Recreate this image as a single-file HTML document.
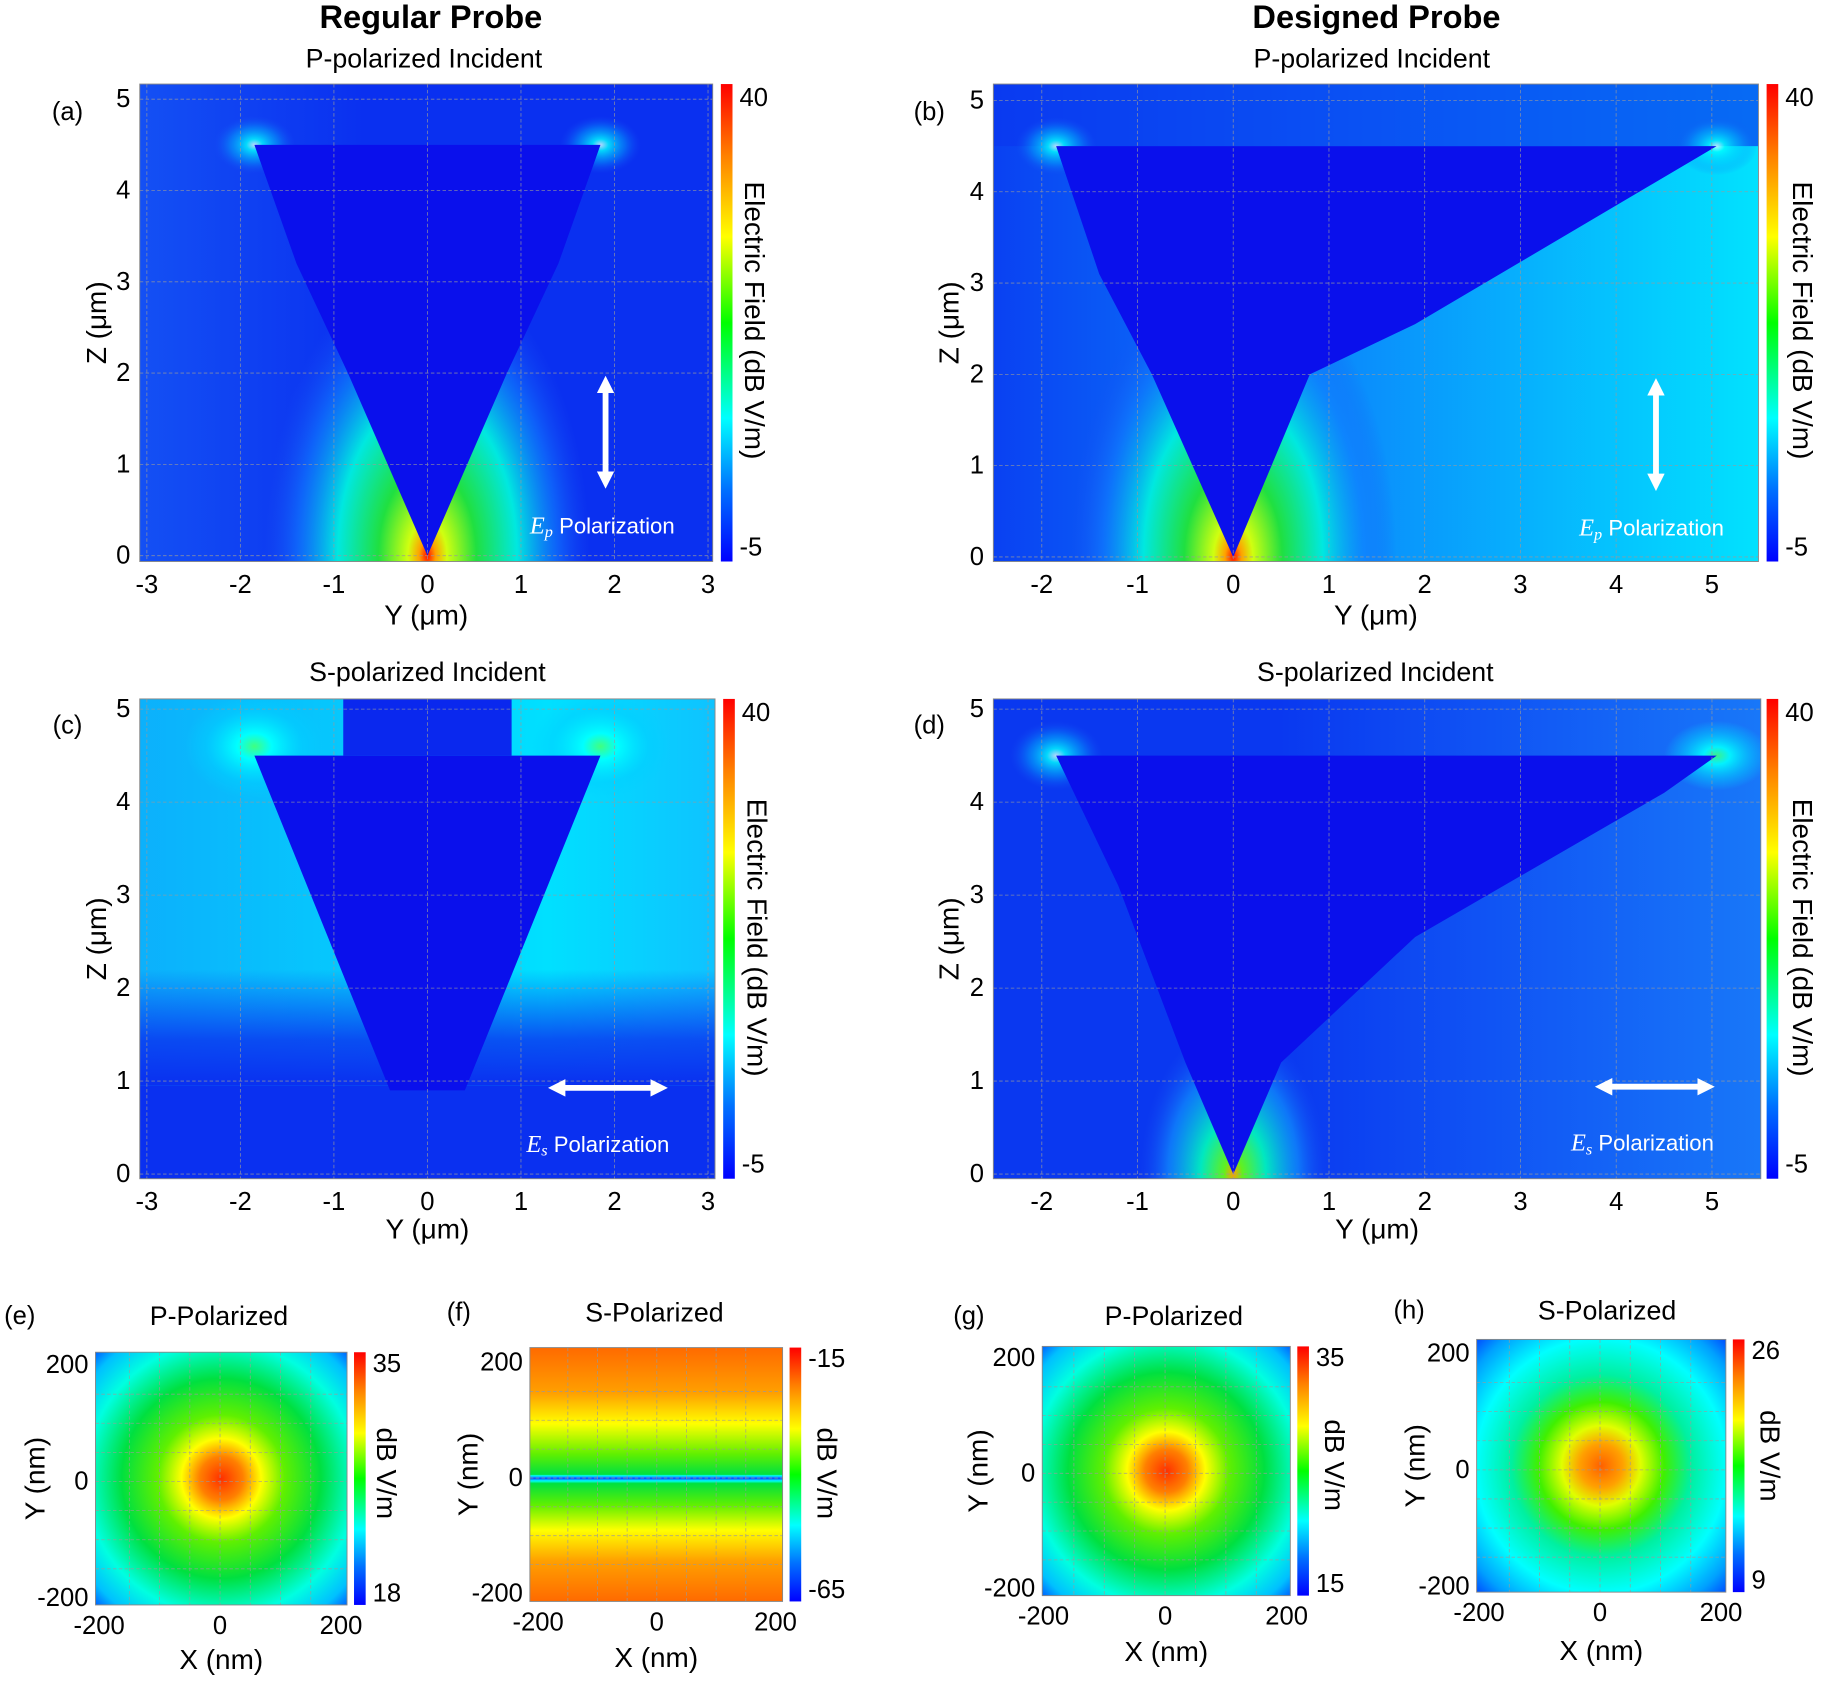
<!DOCTYPE html>
<html><head><meta charset="utf-8"><style>
html,body{margin:0;padding:0;background:#fff;}
svg{display:block;font-family:"Liberation Sans",sans-serif;}
</style></head><body>
<svg id="fig" width="1826" height="1682" viewBox="0 0 1568 1444" xmlns="http://www.w3.org/2000/svg">
<defs>
<linearGradient id="jet" x1="0" y1="1" x2="0" y2="0">
<stop offset="0" stop-color="#0000ff"/><stop offset="0.15" stop-color="#0070ff"/><stop offset="0.3" stop-color="#00ffff"/><stop offset="0.5" stop-color="#00ff00"/><stop offset="0.68" stop-color="#ffff00"/><stop offset="0.85" stop-color="#ff8000"/><stop offset="1" stop-color="#ff0000"/></linearGradient>
<radialGradient id="tip">
<stop offset="0" stop-color="#ff1000"/><stop offset="0.05" stop-color="#ffa000"/><stop offset="0.12" stop-color="#d0ff10"/><stop offset="0.3" stop-color="#20e040"/><stop offset="0.55" stop-color="#00e8e0"/><stop offset="0.8" stop-color="#1080ff" stop-opacity="0.6"/><stop offset="1" stop-color="#1a50f5" stop-opacity="0"/></radialGradient>
<radialGradient id="tipweak">
<stop offset="0" stop-color="#ffa000"/><stop offset="0.1" stop-color="#60f020"/><stop offset="0.35" stop-color="#00e8c0"/><stop offset="0.7" stop-color="#10a0ff" stop-opacity="0.6"/><stop offset="1" stop-color="#1a50f5" stop-opacity="0"/></radialGradient>
<radialGradient id="corner">
<stop offset="0" stop-color="#e0ffff"/><stop offset="0.2" stop-color="#00ffff"/><stop offset="0.6" stop-color="#00c0ff" stop-opacity="0.5"/><stop offset="1" stop-color="#1a50f5" stop-opacity="0"/></radialGradient>
<radialGradient id="cornerS">
<stop offset="0" stop-color="#40ff80"/><stop offset="0.25" stop-color="#00ffff"/><stop offset="0.7" stop-color="#00d0ff" stop-opacity="0.5"/><stop offset="1" stop-color="#00d0ff" stop-opacity="0"/></radialGradient>
<radialGradient id="spotP" cx="0.5" cy="0.5" r="0.72">
<stop offset="0" stop-color="#ff3000"/><stop offset="0.12" stop-color="#ff8000"/><stop offset="0.22" stop-color="#ffff00"/><stop offset="0.35" stop-color="#60f000"/><stop offset="0.55" stop-color="#00e040"/><stop offset="0.75" stop-color="#00ffe0"/><stop offset="0.9" stop-color="#00c0ff"/><stop offset="1" stop-color="#0050ff"/></radialGradient>
<radialGradient id="spotH" cx="0.5" cy="0.5" r="0.72">
<stop offset="0" stop-color="#ff6000"/><stop offset="0.12" stop-color="#ffa000"/><stop offset="0.22" stop-color="#e0ff00"/><stop offset="0.35" stop-color="#40f000"/><stop offset="0.5" stop-color="#00f0a0"/><stop offset="0.7" stop-color="#00ffff"/><stop offset="0.88" stop-color="#00a0ff"/><stop offset="1" stop-color="#0040ff"/></radialGradient>
<linearGradient id="bandS" x1="0" y1="0" x2="0" y2="1">
<stop offset="0" stop-color="#ff6a00"/><stop offset="0.18" stop-color="#ffa000"/><stop offset="0.3" stop-color="#ffff00"/><stop offset="0.42" stop-color="#60f000"/><stop offset="0.5" stop-color="#00e040"/><stop offset="0.505" stop-color="#00ffff"/><stop offset="0.515" stop-color="#1040ff"/><stop offset="0.525" stop-color="#00ffff"/><stop offset="0.535" stop-color="#00e040"/><stop offset="0.62" stop-color="#60f000"/><stop offset="0.72" stop-color="#ffff00"/><stop offset="0.84" stop-color="#ffa000"/><stop offset="1" stop-color="#ff6a00"/></linearGradient>
<linearGradient id="sideA" x1="0" y1="0" x2="1" y2="0">
<stop offset="0" stop-color="#1a64f6"/><stop offset="0.2" stop-color="#0a30f0"/><stop offset="0.8" stop-color="#0a30f0"/><stop offset="1" stop-color="#1a64f6"/></linearGradient>
<linearGradient id="sideB" x1="0" y1="0" x2="1" y2="0">
<stop offset="0" stop-color="#1a64f6"/><stop offset="0.15" stop-color="#0a30f0"/><stop offset="0.5" stop-color="#0a30f0"/><stop offset="0.75" stop-color="#0a90fc"/><stop offset="1" stop-color="#00f0ff"/></linearGradient>
<linearGradient id="sideC" x1="0" y1="0" x2="1" y2="0">
<stop offset="0" stop-color="#10a0fa"/><stop offset="0.3" stop-color="#00e0ff"/><stop offset="0.5" stop-color="#20a0ff"/><stop offset="0.7" stop-color="#00e0ff"/><stop offset="1" stop-color="#10a0fa"/></linearGradient>
<linearGradient id="fadeC" x1="0" y1="0" x2="0" y2="1">
<stop offset="0" stop-color="#0a30f0" stop-opacity="0"/><stop offset="0.6" stop-color="#0a30f0" stop-opacity="0.8"/><stop offset="1" stop-color="#0a30f0" stop-opacity="1"/></linearGradient>
<linearGradient id="sideD" x1="0" y1="0" x2="1" y2="0">
<stop offset="0" stop-color="#1458f4"/><stop offset="0.4" stop-color="#0a38f0"/><stop offset="0.7" stop-color="#0a38f0"/><stop offset="1" stop-color="#1a80fa"/></linearGradient>
<marker id="ah" viewBox="0 0 10 10" refX="5" refY="5" markerWidth="3" markerHeight="3" orient="auto-start-reverse"><path d="M0,0 L10,5 L0,10 z" fill="#fff"/></marker>
</defs>
<g id="root"></g>
</svg>
<script>
// ---- data arrays ----
const yTicksA = [-3,-2,-1,0,1,2,3];
const yTicksB = [-2,-1,0,1,2,3,4,5];
const zTicks = [0,1,2,3,4,5];
const cbarLabelsBig = [40,-5];
const nmTicks = [-200,0,200];
const gridNm = [-150,-100,-50,0,50,100,150];
const cbarE = [35,18];
const cbarF = [-15,-65];
const cbarG = [35,15];
const cbarH = [26,9];
// probe outlines (Y µm, Z µm)
const probeA_y = [-1.85,1.85,1.4,0.85,0,-0.85,-1.4];
const probeA_z = [4.5,4.5,3.2,2,0,2,3.2];
const probeB_y = [-1.85,5.05,1.9,0.8,0,-0.85,-1.4];
const probeB_z = [4.5,4.5,2.55,2,0,2,3.1];
const probeC_y = [-1.85,1.85,0.4,-0.4];
const probeC_z = [4.5,4.5,0.9,0.9];
const probeD_y = [-1.85,5.05,4.5,1.9,0.5,0,-0.5,-1.2];
const probeD_z = [4.5,4.5,4.1,2.55,1.2,0,1.2,3.1];

const NS="http://www.w3.org/2000/svg";
const root=document.getElementById('root');
function mk(tag,attrs,parent,text){const e=document.createElementNS(NS,tag);for(const k in attrs)e.setAttribute(k,attrs[k]);if(text!==undefined)e.textContent=text;(parent||root).appendChild(e);return e;}
function txt(x,y,s,size,opts){opts=opts||{};const t=mk('text',{x:x,y:y,'font-size':size,'text-anchor':opts.anchor||'middle','dominant-baseline':'central','font-weight':opts.bold?'bold':'normal',fill:opts.fill||'#000'},opts.parent,s);if(opts.rot)t.setAttribute('transform','rotate('+opts.rot+' '+x+' '+y+')');return t;}

function makePanel(p){
  const g=mk('g',{});
  
  
  const sx=v=>p.px0+(v-p.xmin)/(p.xmax-p.xmin)*(p.px1-p.px0);
  const sy=v=>p.py1-(v-p.ymin)/(p.ymax-p.ymin)*(p.py1-p.py0);
  const cid='clip_'+p.name;
  const cp=mk('clipPath',{id:cid},g);
  mk('rect',{x:p.px0,y:p.py0,width:p.px1-p.px0,height:p.py1-p.py0},cp);
  const hm=mk('g',{'clip-path':'url(#'+cid+')'},g);
  
  
  p.draw(hm,sx,sy);
  const gg=mk('g',{stroke:'#9a9a9a','stroke-width':0.7,'stroke-dasharray':'3,2',opacity:0.8},g);
  p.gridX.forEach(v=>{const l=mk('line',{x1:sx(v),x2:sx(v),y1:p.py0,y2:p.py1},gg);});
  p.gridY.forEach(v=>{const l=mk('line',{x1:p.px0,x2:p.px1,y1:sy(v),y2:sy(v)},gg);});
  mk('rect',{x:p.px0,y:p.py0,width:p.px1-p.px0,height:p.py1-p.py0,fill:'none',stroke:'#888','stroke-width':0.8},g);
  p.xTicks.forEach(v=>{const t=txt(sx(v),p.py1+p.xTickOff,String(v),p.fs,{parent:g});});
  p.yTicks.forEach(v=>{const t=txt(p.px0-p.yTickOff,sy(v),String(v),p.fs,{parent:g,anchor:'end'});});
  const xt=txt((p.px0+p.px1)/2,p.xTitleY,p.xTitle,p.fs+2,{parent:g});
  
  
  const yt=txt(p.yTitleX,(p.py0+p.py1)/2,p.yTitle,p.fs+2,{parent:g,rot:-90});
  
  
  const cb=mk('rect',{x:p.cbx,y:p.py0,width:p.cbw,height:p.py1-p.py0,fill:'url(#jet)'},g);
  
  
  const c1=txt(p.cbx+p.cbw+6,p.py0+p.cbPad,String(p.cbar[0]),p.fs,{parent:g,anchor:'start'});
  
  
  const c2=txt(p.cbx+p.cbw+6,p.py1-p.cbPad,String(p.cbar[1]),p.fs,{parent:g,anchor:'start'});
  
  
  const ct=txt(p.cbTitleX,p.cbTitleY,p.cbTitle,p.fs+2,{parent:g,rot:90});
  
  
  return g;
}
function poly(parent,sx,sy,ys,zs,fill){const pts=ys.map((y,i)=>sx(y)+','+sy(zs[i])).join(' ');const e=mk('polygon',{points:pts,fill:fill},parent);return e;}
function ell(parent,cx,cy,rx,ry,fill,op){return mk('ellipse',{cx:cx,cy:cy,rx:rx,ry:ry,fill:fill,opacity:op===undefined?1:op},parent);}

const big={fs:22,xTickOff:20,yTickOff:8,gridY:zTicks,yTicks:zTicks,yTitle:'Z (\u03bcm)',xTitle:'Y (\u03bcm)',cbw:10,cbar:cbarLabelsBig,cbPad:12,cbTitle:'Electric Field (dB V/m)'};
function P(o){return Object.assign({},big,o);}
const panels=[
P({name:'panel-a',px0:120,px1:612,py0:72,py1:482,xmin:-3.076,xmax:3.05,ymin:-0.064,ymax:5.166,xTicks:yTicksA,gridX:yTicksA,xTitleY:528,yTitleX:83,cbx:619,cbTitleX:648,cbTitleY:275,
 draw:(h,sx,sy)=>{mk('rect',{x:0,y:0,width:1568,height:1444,fill:'url(#sideA)'},h);
  ell(h,sx(0),sy(0),140,250,'url(#tip)');
  ell(h,sx(-1.85),sy(4.5),35,25,'url(#corner)',0.8);ell(h,sx(1.85),sy(4.5),35,25,'url(#corner)',0.8);
  poly(h,sx,sy,probeA_y,probeA_z,'#0a10ec');}}),
P({name:'panel-b',px0:853,px1:1510,py0:72,py1:482,xmin:-2.506,xmax:5.487,ymin:-0.05,ymax:5.18,xTicks:yTicksB,gridX:yTicksB,xTitleY:528,yTitleX:815,cbx:1517,cbTitleX:1548,cbTitleY:275,
 draw:(h,sx,sy)=>{mk('rect',{x:0,y:0,width:1568,height:1444,fill:'url(#sideB)'},h);
  mk('rect',{x:0,y:0,width:1568,height:sy(4.5),fill:'#0a38f0',opacity:0.7},h);
  ell(h,sx(0),sy(0),140,250,'url(#tip)');
  ell(h,sx(-1.85),sy(4.5),35,25,'url(#corner)',0.8);ell(h,sx(5.05),sy(4.5),35,25,'url(#corner)',0.8);
  poly(h,sx,sy,probeB_y,probeB_z,'#0a10ec');}}),
P({name:'panel-c',px0:120,px1:614,py0:600,py1:1012,xmin:-3.076,xmax:3.075,ymin:-0.05,ymax:5.11,xTicks:yTicksA,gridX:yTicksA,xTitleY:1055,yTitleX:83,cbx:621,cbTitleX:650,cbTitleY:805,
 draw:(h,sx,sy)=>{mk('rect',{x:0,y:0,width:1568,height:1444,fill:'url(#sideC)'},h);
  mk('rect',{x:0,y:sy(2.2),width:1568,height:sy(0.95)-sy(2.2),fill:'url(#fadeC)'},h);
  mk('rect',{x:0,y:sy(0.95),width:1568,height:200,fill:'#0a30f0'},h);
  mk('rect',{x:sx(-0.9),y:0,width:sx(0.9)-sx(-0.9),height:sy(4.5),fill:'#0a28ee'},h);
  ell(h,sx(-1.85),sy(4.6),60,45,'url(#cornerS)');ell(h,sx(1.85),sy(4.6),60,45,'url(#cornerS)');
  poly(h,sx,sy,probeC_y,probeC_z,'#0a10ec');}}),
P({name:'panel-d',px0:853,px1:1512,py0:600,py1:1012,xmin:-2.506,xmax:5.51,ymin:-0.05,ymax:5.11,xTicks:yTicksB,gridX:yTicksB,xTitleY:1055,yTitleX:815,cbx:1517,cbTitleX:1548,cbTitleY:805,
 draw:(h,sx,sy)=>{mk('rect',{x:0,y:0,width:1568,height:1444,fill:'url(#sideD)'},h);
  ell(h,sx(0),sy(0),80,130,'url(#tipweak)');
  ell(h,sx(-1.85),sy(4.5),40,30,'url(#corner)',0.8);ell(h,sx(5.05),sy(4.5),45,30,'url(#cornerS)',0.9);
  poly(h,sx,sy,probeD_y,probeD_z,'#0a10ec');}})
];
const sm={fs:22,xTickOff:18,yTickOff:6,xTitle:'X (nm)',yTitle:'Y (nm)',xTicks:nmTicks,yTicks:nmTicks,gridX:gridNm,gridY:gridNm,cbw:10,cbPad:10,cbTitle:'dB V/m'};
function S(o){return Object.assign({},sm,o);}
panels.push(
S({name:'panel-e',px0:82,px1:298,py0:1161,py1:1378,xmin:-206,xmax:210,ymin:-212,ymax:222,xTitleY:1425,yTitleX:30,cbx:304,cbar:cbarE,cbTitleX:332,cbTitleY:1265,
 draw:(h)=>{mk('rect',{x:82,y:1161,width:216,height:217,fill:'url(#spotP)'},h);}}),
S({name:'panel-f',px0:455,px1:672,py0:1157,py1:1375,xmin:-214,xmax:212,ymin:-214,ymax:226,xTitleY:1423,yTitleX:402,cbx:678,cbar:cbarF,cbTitleX:710,cbTitleY:1265,
 draw:(h)=>{mk('rect',{x:455,y:1157,width:217,height:218,fill:'url(#bandS)'},h);}}),
S({name:'panel-g',px0:895,px1:1108,py0:1156,py1:1370,xmin:-202,xmax:206,ymin:-212,ymax:220,xTitleY:1418,yTitleX:840,cbx:1114,cbar:cbarG,cbTitleX:1146,cbTitleY:1258,
 draw:(h)=>{mk('rect',{x:895,y:1156,width:213,height:214,fill:'url(#spotP)'},h);}}),
S({name:'panel-h',px0:1268,px1:1482,py0:1150,py1:1367,xmin:-204,xmax:208,ymin:-210,ymax:224,xTitleY:1417,yTitleX:1215,cbx:1488,cbar:cbarH,cbTitleX:1520,cbTitleY:1250,
 draw:(h)=>{mk('rect',{x:1268,y:1150,width:214,height:217,fill:'url(#spotH)'},h);}})
);
panels.forEach(makePanel);

[['Regular Probe',370,14,28,true,'column-title-regular'],['Designed Probe',1182,14,28,true,'column-title-designed'],
 ['P-polarized Incident',364,50,23,false,'title-a'],['P-polarized Incident',1178,50,23,false,'title-b'],
 ['S-polarized Incident',367,577,23,false,'title-c'],['S-polarized Incident',1181,577,23,false,'title-d'],
 ['P-Polarized',188,1130,23,false,'title-e'],['S-Polarized',562,1127,23,false,'title-f'],
 ['P-Polarized',1008,1130,23,false,'title-g'],['S-Polarized',1380,1125,23,false,'title-h'],
 ['(a)',58,96,22,false,'label-a'],['(b)',798,96,22,false,'label-b'],['(c)',58,623,22,false,'label-c'],['(d)',798,623,22,false,'label-d'],
 ['(e)',17,1130,22,false,'label-e'],['(f)',394,1127,22,false,'label-f'],['(g)',832,1130,22,false,'label-g'],['(h)',1210,1125,22,false,'label-h']
].forEach(a=>{const t=txt(a[1],a[2],a[0],a[3],{bold:a[4]});});

function arrow(x1,y1,x2,y2,name){const l=mk('line',{x1:x1,y1:y1,x2:x2,y2:y2,stroke:'#fff','stroke-width':5,'marker-start':'url(#ah)','marker-end':'url(#ah)'});}
arrow(520,330,520,412,'ep-arrow-a');arrow(1422,332,1422,414,'ep-arrow-b');
arrow(478,934,566,934,'es-arrow-c');arrow(1377,933,1465,933,'es-arrow-d');
function pol(x,y,sub,name){const t=mk('text',{x:x,y:y,'font-size':19,fill:'#fff','dominant-baseline':'central'});
 mk('tspan',{'font-style':'italic','font-family':'Liberation Serif,serif','font-size':21},t,'E');mk('tspan',{'font-style':'italic','font-family':'Liberation Serif,serif','font-size':14,dy:5},t,sub);mk('tspan',{dy:-5},t,' Polarization');}
pol(455,451,'p','ep-label-a');pol(1356,453,'p','ep-label-b');pol(452,982,'s','es-label-c');pol(1349,981,'s','es-label-d');
</script>
</body></html>
